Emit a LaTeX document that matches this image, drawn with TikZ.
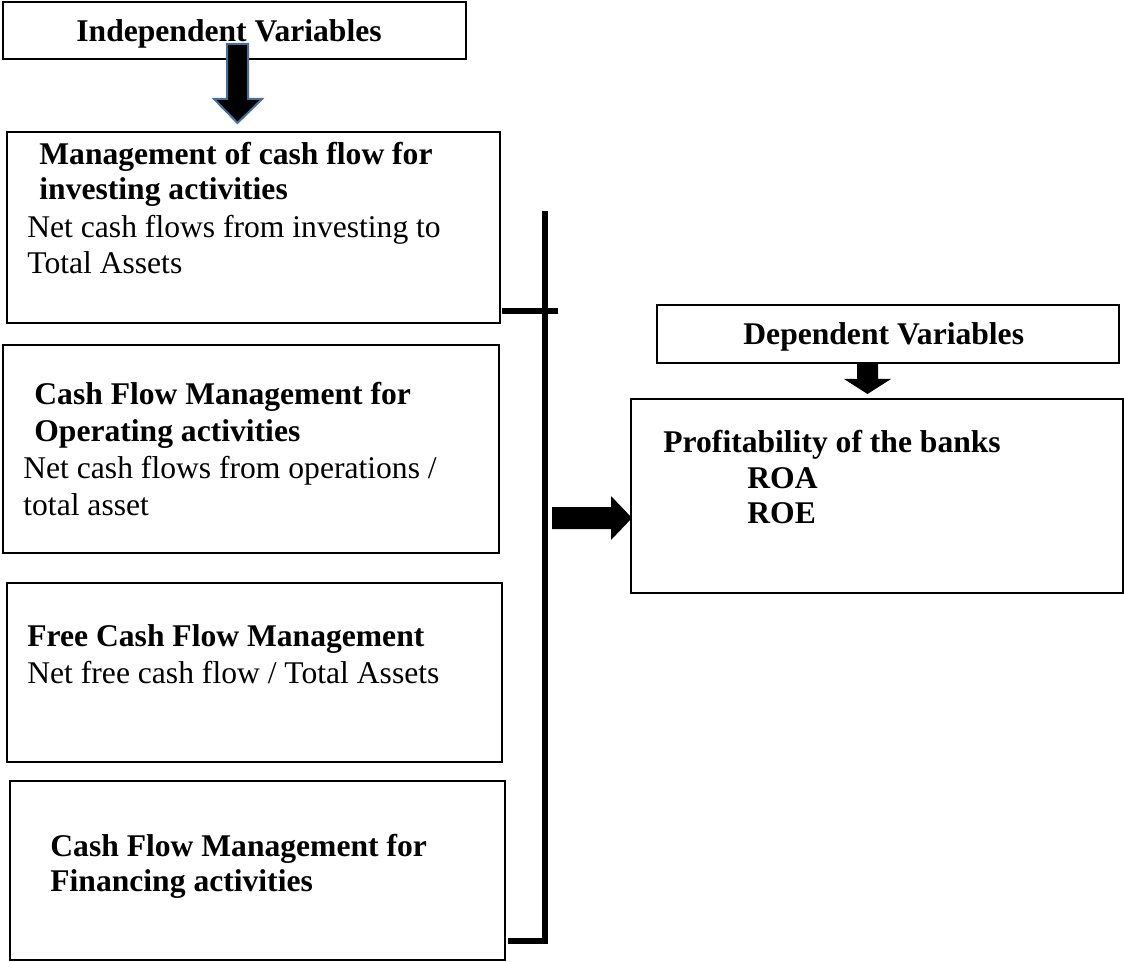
\documentclass[tikz,border=0pt]{standalone}
\usepackage{fontspec}
\setmainfont{Liberation Serif}
\usepackage{tikz}
\usetikzlibrary{positioning}
\definecolor{arrowedge}{HTML}{41719C}

\tikzset{
  box/.style={draw=black, line width=1pt},
  hd/.style={inner sep=0pt, anchor=base west, font=\fontsize{15.8}{18}\selectfont\bfseries},
  txt/.style={inner sep=0pt, anchor=base west, font=\fontsize{15.8}{18}\selectfont},
  bar/.style={line width=3pt},
}

\begin{document}
\begin{tikzpicture}[x=0.5pt, y=-0.5pt]
  \useasboundingbox (0,0) rectangle (1124,962);
  %% Boxes (pixel grid of the page)
  \draw[box] (3,2) rectangle (466,59);       % independent
  \draw[box] (7,132) rectangle (500,323);    % investing
  \draw[box] (3,345) rectangle (499,553);    % operating
  \draw[box] (7,583) rectangle (502,762);    % free cash flow
  \draw[box] (10,781) rectangle (505,960);   % financing
  \draw[box] (657,305) rectangle (1119,363); % dependent
  \draw[box] (631,399) rectangle (1123,593); % profitability

  % Texts
  \node[hd] (indep) at (76,42) {Independent Variables};
  \node[hd] (inv1) at (39,165) {Management of cash flow for};
  \node[hd] (inv2) at (39,200) {investing activities};
  \node[txt] (inv3) at (27,238) {Net cash flows from investing to};
  \node[txt] (inv4) at (27,274) {Total Assets};
  \node[hd] (ope1) at (34,405) {Cash Flow Management for};
  \node[hd] (ope2) at (34,442) {Operating activities};
  \node[txt] (ope3) at (23,478) {Net cash flows from operations /};
  \node[txt] (ope4) at (23,515) {total asset};
  \node[hd] (free1) at (27,646) {Free Cash Flow Management};
  \node[txt] (free2) at (27,683) {Net free cash flow / Total Assets};
  \node[hd] (fin1) at (50,856) {Cash Flow Management for};
  \node[hd] (fin2) at (50,891) {Financing activities};
  \node[hd] (dep) at (743,345) {Dependent Variables};
  \node[hd] (prof1) at (663,452) {Profitability of the banks};
  \node[hd] (roa) at (747,488) {ROA};
  \node[hd] (roe) at (747,523) {ROE};

  % Block arrows
  \filldraw[fill=black, draw=arrowedge, line width=1pt]
    (227,44) -- (248,44) -- (248,99) -- (262,99) -- (237.5,123)
    -- (214,99) -- (227,99) -- cycle;
  \fill (857,363) -- (878,363) -- (878,379) -- (891,379) -- (867.5,394)
    -- (844,379) -- (857,379) -- cycle;
  \fill (552,507) -- (611,507) -- (611,496) -- (632,518)
    -- (611,540) -- (611,529) -- (552,529) -- cycle;

  % Bracket
  \coordinate (top) at (545,211);
  \coordinate (bot) at (545,941);
  \draw[bar] (top) -- (bot);
  \draw[line width=2.8pt] (502,311) -- (558,311);
  \draw[line width=3pt] (508,941) -- (bot) -- ++(3,0);
\end{tikzpicture}
\end{document}
